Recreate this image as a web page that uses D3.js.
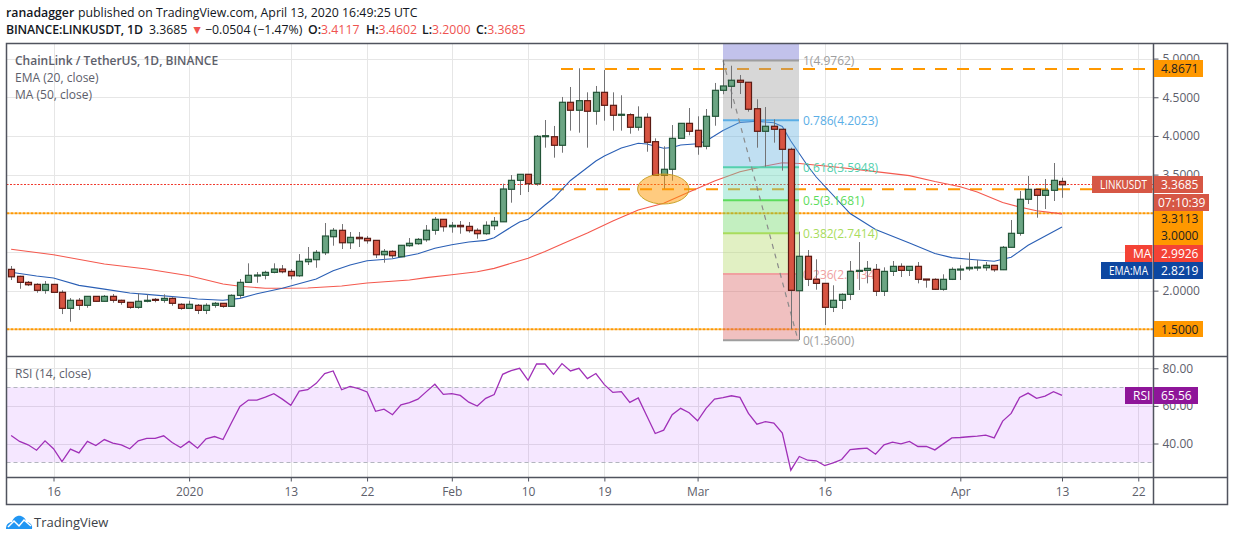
<!DOCTYPE html>
<html>
<head>
<meta charset="utf-8">
<script src="https://d3js.org/d3.v7.min.js"></script>
<style>
html, body { margin: 0; padding: 0; background: #fff; }
svg { display: block; }
text { font-family: "Open Sans", "Noto Sans", sans-serif; }
</style>
</head>
<body>
<div id="chart"></div>
<script>
// daily candles, first one is 11 Dec 2019
var opens = [2.275,2.185,2.107,2.081,2.004,2.081,1.978,1.771,1.875,1.810,1.926,1.862,1.926,1.875,1.849,1.784,1.862,1.887,1.875,1.900,1.823,1.771,1.810,1.745,1.810,1.836,1.797,1.939,2.107,2.192,2.198,2.236,2.279,2.249,2.192,2.374,2.400,2.490,2.697,2.780,2.619,2.689,2.676,2.650,2.464,2.508,2.438,2.581,2.607,2.658,2.780,2.922,2.826,2.844,2.831,2.780,2.736,2.839,2.890,3.310,3.426,3.504,3.382,3.990,3.990,3.879,4.435,4.332,4.456,4.319,4.564,4.396,4.267,4.275,4.112,4.241,3.926,3.491,3.569,3.969,4.163,4.073,3.866,4.254,4.590,4.642,4.720,4.694,4.352,4.060,4.125,4.086,3.827,1.999,2.444,2.146,2.094,1.784,1.875,1.952,2.249,2.262,2.275,1.991,2.249,2.314,2.262,2.314,2.150,2.146,2.017,2.146,2.270,2.283,2.296,2.296,2.327,2.270,2.560,2.741,3.181,3.310,3.232,3.297,3.4117];
var highs = [2.318,2.192,2.124,2.094,2.124,2.085,2.004,1.904,1.904,1.926,1.930,1.943,1.956,1.882,1.853,1.965,1.952,1.904,1.952,1.913,1.836,1.869,1.827,1.836,1.853,1.840,1.952,2.150,2.353,2.240,2.257,2.353,2.331,2.279,2.473,2.564,2.525,2.874,2.810,2.861,2.758,2.758,2.706,2.654,2.538,2.521,2.590,2.680,2.680,2.848,2.952,2.926,2.887,2.900,2.887,2.806,2.896,2.952,3.382,3.495,3.506,3.506,4.012,4.206,4.129,4.504,4.633,4.875,4.564,4.646,4.853,4.564,4.526,4.293,4.383,4.293,3.969,3.866,4.141,4.163,4.361,4.254,4.348,4.685,4.982,4.908,4.788,4.698,4.474,4.374,4.215,4.090,3.848,2.762,2.525,2.405,2.098,2.069,1.965,2.383,2.628,2.383,2.344,2.301,2.383,2.353,2.318,2.370,2.150,2.159,2.211,2.301,2.327,2.495,2.396,2.370,2.331,2.577,2.913,3.288,3.482,3.314,3.443,3.650,3.4602];
var lows = [2.137,2.024,2.059,1.973,1.960,1.973,1.697,1.598,1.749,1.779,1.859,1.859,1.844,1.818,1.766,1.766,1.849,1.849,1.844,1.805,1.753,1.770,1.697,1.697,1.779,1.779,1.792,1.900,2.102,2.102,2.146,2.224,2.224,2.146,2.179,2.331,2.296,2.460,2.581,2.538,2.538,2.564,2.607,2.422,2.361,2.418,2.434,2.568,2.594,2.632,2.723,2.762,2.749,2.736,2.749,2.671,2.723,2.784,2.890,3.137,3.236,3.275,3.357,3.848,3.719,3.783,4.068,4.042,3.848,4.145,4.197,4.068,4.068,4.029,4.068,3.796,3.491,3.318,3.421,3.969,4.008,3.757,3.827,4.132,4.539,4.357,4.542,4.314,3.848,3.602,3.913,3.551,1.503,1.361,2.059,2.012,1.555,1.723,1.762,1.878,2.008,2.094,1.930,1.930,2.189,2.176,2.189,2.094,2.038,2.008,1.999,2.137,2.137,2.257,2.257,2.257,2.244,2.266,2.557,2.710,3.120,2.943,3.055,3.159,3.2];
var closes = [2.179,2.107,2.076,2.004,2.081,1.978,1.771,1.875,1.810,1.926,1.862,1.926,1.875,1.849,1.784,1.862,1.875,1.875,1.900,1.836,1.771,1.823,1.745,1.810,1.836,1.797,1.939,2.107,2.198,2.202,2.236,2.279,2.244,2.192,2.379,2.405,2.495,2.706,2.780,2.619,2.689,2.671,2.645,2.464,2.508,2.451,2.586,2.612,2.663,2.780,2.922,2.826,2.844,2.826,2.775,2.736,2.844,2.896,3.314,3.426,3.504,3.382,3.995,4.003,3.879,4.435,4.332,4.456,4.319,4.564,4.396,4.267,4.280,4.112,4.241,3.918,3.491,3.569,3.969,4.163,4.060,3.861,4.254,4.590,4.646,4.720,4.694,4.345,4.060,4.125,4.086,3.827,2.004,2.444,2.146,2.094,1.784,1.875,1.952,2.249,2.262,2.288,1.991,2.249,2.314,2.262,2.314,2.146,2.141,2.017,2.146,2.275,2.279,2.301,2.305,2.327,2.270,2.560,2.741,3.181,3.310,3.232,3.297,3.426,3.3685];

// moving averages, read at these candle numbers
var emaDays = [0,3,5,8,11,14,16,21,22,25,27,29,32,36,38,40,42,45,48,50,52,54,56,57,59,60,61,63,64,66,67,69,70,72,74,75,77,78,79,81,82,84,86,88,90,91,92,94,95,99,102,106,109,111,113,116,118,120,124];
var emaValues = [2.238,2.189,2.163,2.068,2.020,1.969,1.952,1.904,1.891,1.876,1.900,1.960,2.030,2.150,2.257,2.331,2.387,2.412,2.477,2.547,2.594,2.628,2.650,2.684,2.822,2.887,2.922,3.107,3.194,3.424,3.508,3.676,3.741,3.844,3.905,3.896,3.840,3.850,3.883,3.900,3.935,4.070,4.176,4.189,4.171,4.122,3.935,3.611,3.469,2.997,2.790,2.616,2.480,2.427,2.405,2.379,2.431,2.586,2.8219];
var maDays = [0,5,11,16,21,25,27,30,32,35,39,42,47,49,52,55,57,59,61,63,65,68,71,74,77,80,83,86,89,91,93,97,101,106,109,112,114,117,119,121,124];
var maValues = [2.535,2.464,2.344,2.279,2.193,2.085,2.056,2.030,2.030,2.034,2.060,2.098,2.137,2.168,2.206,2.244,2.288,2.353,2.418,2.506,2.603,2.745,2.900,3.042,3.129,3.275,3.417,3.538,3.611,3.654,3.644,3.602,3.551,3.487,3.411,3.344,3.275,3.139,3.081,3.033,2.9926];

var rsiValues = [44.3,41.1,39.3,36.4,41.4,37.2,30.4,37.0,35.0,41.1,38.9,42.1,40.2,39.3,37.2,41.4,42.7,42.7,44.1,40.5,37.9,41.1,37.5,42.5,43.7,42.1,51.0,59.7,63.1,63.1,64.7,66.5,63.6,60.3,67.9,68.6,72.0,77.2,78.6,68.6,70.4,69.2,67.4,57.1,58.3,55.3,60.6,61.7,63.6,67.6,71.5,66.1,66.5,65.6,62.0,59.9,64.0,66.0,76.8,78.8,80.0,73.6,82.3,82.3,76.8,82.5,78.6,80.0,74.5,77.2,71.3,67.2,67.6,61.9,64.2,54.8,45.3,47.1,55.3,58.7,56.4,52.1,58.7,63.6,64.4,65.4,64.5,56.0,50.3,51.6,50.8,45.5,25.8,33.1,31.1,30.8,28.3,29.7,31.5,36.8,37.2,37.5,34.3,39.3,40.7,39.8,41.1,38.4,38.4,36.6,39.8,43.0,43.2,43.6,43.9,44.4,43.0,51.9,56.0,64.5,66.8,64.0,65.2,67.6,65.56];

var fibRatios = [1, 0.786, 0.618, 0.5, 0.382, 0.236, 0];
var fibPrices = [4.9762, 4.2023, 3.5948, 3.1681, 2.7414, 2.2134, 1.36];
var fibColors = ["#9e9e9e", "#5aaee6", "#55d0ae", "#5cdc5c", "#a8dc5c", "#f0a0a0", "#9e9e9e"];
var fibFills = ["rgb(155,155,155)", "rgb(98,175,222)", "rgb(98,215,185)", "rgb(105,215,97)", "rgb(180,217,105)", "rgb(217,97,97)"];

var priceTicks = [1.5, 2, 2.5, 3, 3.5, 4, 4.5, 5];
var coveredTicks = [1.5, 2.5, 3];
var rsiTicks = [40, 60, 80];
var timeDates = ["2019-12-16","2020-01-01","2020-01-13","2020-01-22","2020-02-01","2020-02-10","2020-02-19","2020-03-01","2020-03-16","2020-04-01","2020-04-13","2020-04-22"];
var timeLabels = ["16","2020","13","22","Feb","10","19","Mar","16","Apr","13","22"];
var dashedLevels = [4.8671, 3.3113];
var dottedLevels = [3.0, 1.5];

var width = 1234, height = 541;
var frame = { left: 6.5, right: 1227.5, top: 43.5, axis: 1153.5, paneEnd: 356.5, rsiEnd: 477.5, bottom: 504.5 };

var svg = d3.select("#chart").append("svg")
    .attr("width", width)
    .attr("height", height);

var firstDay = new Date(Date.UTC(2019, 11, 11));
var dateOf = function (i) { return d3.utcDay.offset(firstDay, i); };
var parseDay = d3.utcParse("%Y-%m-%d");

var x = d3.scaleUtc()
    .domain([parseDay("2019-12-16"), parseDay("2020-04-13")])
    .range([53.5, 1062]);
var y = d3.scaleLinear().domain([5, 1.5]).range([58.6, 329.3]);
var yRsi = d3.scaleLinear().domain([80, 30]).range([368.3, 462.3]);
var px = function (v) { return Math.round(v) + 0.5; };

// grid
var grid = svg.append("g").attr("stroke", "#e6e6e6").attr("fill", "none");
timeDates.forEach(function (d) {
    var gx = px(x(parseDay(d)));
    grid.append("line").attr("x1", gx).attr("x2", gx).attr("y1", frame.top).attr("y2", frame.rsiEnd);
});
priceTicks.forEach(function (p) {
    grid.append("line").attr("x1", frame.left).attr("x2", frame.axis).attr("y1", px(y(p))).attr("y2", px(y(p)));
});
rsiTicks.forEach(function (p) {
    grid.append("line").attr("x1", frame.left).attr("x2", frame.axis).attr("y1", px(yRsi(p))).attr("y2", px(yRsi(p)));
});

// horizontal levels
var lastY = Math.floor(y(closes[closes.length - 1])) + 0.5;
svg.append("line")
    .attr("x1", frame.left).attr("x2", frame.axis)
    .attr("y1", lastY).attr("y2", lastY)
    .attr("stroke", "#f0382c").attr("stroke-dasharray", "2,1.5");
var dashStart = [561, 552];
dashedLevels.forEach(function (p, i) {
    svg.append("line")
        .attr("x1", dashStart[i]).attr("x2", frame.axis)
        .attr("y1", y(p)).attr("y2", y(p))
        .attr("stroke", "#ff9800").attr("stroke-width", 2).attr("stroke-dasharray", "12,10");
});
dottedLevels.forEach(function (p) {
    svg.append("line")
        .attr("x1", frame.left).attr("x2", frame.axis)
        .attr("y1", y(p)).attr("y2", y(p))
        .attr("stroke", "#ff9800").attr("stroke-width", 2).attr("stroke-dasharray", "3,1");
});

// moving averages
var priceLine = d3.line()
    .x(function (d) { return x(dateOf(d[0])); })
    .y(function (d) { return y(d[1]); });
svg.append("path")
    .attr("d", priceLine(d3.zip(maDays, maValues)))
    .attr("fill", "none").attr("stroke", "#f4594e").attr("stroke-width", 1.1);
svg.append("path")
    .attr("d", priceLine(d3.zip(emaDays, emaValues)))
    .attr("fill", "none").attr("stroke", "#2a5fb5").attr("stroke-width", 1.1);

// fibonacci retracement
var fibLeft = 723, fibRight = 799;
svg.append("rect")
    .attr("x", fibLeft).attr("width", fibRight - fibLeft)
    .attr("y", frame.top).attr("height", y(fibPrices[0]) - frame.top)
    .attr("fill", "rgb(103,103,205)").attr("fill-opacity", 0.4);
fibFills.forEach(function (c, i) {
    svg.append("rect")
        .attr("x", fibLeft).attr("width", fibRight - fibLeft)
        .attr("y", y(fibPrices[i])).attr("height", y(fibPrices[i + 1]) - y(fibPrices[i]))
        .attr("fill", c).attr("fill-opacity", 0.4);
});
fibPrices.forEach(function (p, i) {
    svg.append("line")
        .attr("x1", fibLeft).attr("x2", fibRight)
        .attr("y1", y(p)).attr("y2", y(p))
        .attr("stroke", fibColors[i]).attr("stroke-width", 2);
    svg.append("text")
        .attr("x", fibRight + 4).attr("y", y(p) + 4.5)
        .attr("font-size", 12).attr("font-weight", 500).attr("fill", fibColors[i])
        .text(fibRatios[i] + "(" + p.toFixed(4) + ")");
});
svg.append("line")
    .attr("x1", fibLeft).attr("y1", y(fibPrices[0]))
    .attr("x2", fibRight - 1).attr("y2", y(fibPrices[6]))
    .attr("stroke", "#8a8a8a").attr("stroke-width", 1.2).attr("stroke-dasharray", "5,5");

// candles
var candle = svg.append("g").selectAll("g")
    .data(d3.range(opens.length))
    .enter().append("g");
candle.append("line")
    .attr("x1", function (i) { return px(x(dateOf(i))); })
    .attr("x2", function (i) { return px(x(dateOf(i))); })
    .attr("y1", function (i) { return y(highs[i]); })
    .attr("y2", function (i) { return y(lows[i]); })
    .attr("stroke", "#737375").attr("stroke-width", 1);
candle.append("rect")
    .attr("x", function (i) { return px(x(dateOf(i))) - 3; })
    .attr("width", 6)
    .attr("y", function (i) { return y(Math.max(opens[i], closes[i])); })
    .attr("height", function (i) { return Math.max(1, Math.abs(y(opens[i]) - y(closes[i]))); })
    .attr("fill", function (i) { return closes[i] >= opens[i] ? "#6ba583" : "#d75442"; })
    .attr("stroke", function (i) { return closes[i] >= opens[i] ? "#225437" : "#5b1a13"; })
    .attr("stroke-width", 1.2);

// highlight ellipse
svg.append("ellipse")
    .attr("cx", 663.3).attr("cy", 189).attr("rx", 25.7).attr("ry", 15)
    .attr("fill", "#ff9800").attr("fill-opacity", 0.5)
    .attr("stroke", "#c9a227").attr("stroke-width", 1);

// rsi pane
svg.append("rect")
    .attr("x", frame.left).attr("width", frame.axis - frame.left)
    .attr("y", yRsi(70)).attr("height", yRsi(30) - yRsi(70))
    .attr("fill", "#9915ff").attr("fill-opacity", 0.1);
[70, 30].forEach(function (p) {
    svg.append("line")
        .attr("x1", frame.left).attr("x2", frame.axis)
        .attr("y1", px(yRsi(p))).attr("y2", px(yRsi(p)))
        .attr("stroke", "#b2b5be").attr("stroke-dasharray", "4,3");
});
svg.append("path")
    .attr("d", d3.line()
        .x(function (d, i) { return x(dateOf(i)); })
        .y(function (d) { return yRsi(d); })(rsiValues))
    .attr("fill", "none").attr("stroke", "#a030b8").attr("stroke-width", 1.3);

// axes
var axisColor = "#50535e", labelColor = "#5d606b";
var axisRight = svg.append("g")
    .attr("transform", "translate(" + frame.axis + ",0)")
    .call(d3.axisRight(y).tickValues(priceTicks).tickSize(5).tickPadding(4)
        .tickFormat(function (d) { return coveredTicks.indexOf(d) >= 0 ? "" : d.toFixed(4); }));
var axisRsi = svg.append("g")
    .attr("transform", "translate(" + frame.axis + ",0)")
    .call(d3.axisRight(yRsi).tickValues(rsiTicks).tickSize(5).tickPadding(4)
        .tickFormat(function (d) { return d.toFixed(2); }));
var axisTime = svg.append("g")
    .attr("transform", "translate(0," + frame.rsiEnd + ")")
    .call(d3.axisBottom(x).tickValues(timeDates.map(parseDay)).tickSize(4).tickPadding(6)
        .tickFormat(function (d, i) { return timeLabels[i]; }));
[axisRight, axisRsi, axisTime].forEach(function (a) {
    a.select(".domain").remove();
    a.selectAll("line").attr("stroke", axisColor);
    a.selectAll("text").attr("font-size", 12).attr("fill", labelColor)
        .attr("font-family", '"Open Sans", "Noto Sans", sans-serif');
});

// frame
var frameLines = svg.append("g").attr("stroke", axisColor).attr("stroke-width", 1.5).attr("fill", "none");
frameLines.append("rect")
    .attr("x", frame.left).attr("y", frame.top)
    .attr("width", frame.right - frame.left).attr("height", frame.bottom - frame.top);
frameLines.append("line").attr("x1", frame.axis).attr("x2", frame.axis).attr("y1", frame.top).attr("y2", frame.bottom);
frameLines.append("line").attr("x1", frame.left).attr("x2", frame.right).attr("y1", frame.paneEnd).attr("y2", frame.paneEnd);
frameLines.append("line").attr("x1", frame.left).attr("x2", frame.right).attr("y1", frame.rsiEnd).attr("y2", frame.rsiEnd);

// price tags on the axis
function tag(x0, x1, y0, y1, fill) {
    svg.append("rect")
        .attr("x", x0).attr("y", y0).attr("width", x1 - x0).attr("height", y1 - y0)
        .attr("fill", fill);
}
function tagText(tx, ty, s, color, bold, fit) {
    var t = svg.append("text")
        .attr("x", tx).attr("y", ty)
        .attr("font-size", 12).attr("fill", color)
        .attr("font-weight", bold ? 600 : 400)
        .text(s);
    if (fit) t.attr("textLength", fit).attr("lengthAdjust", "spacingAndGlyphs");
}
tag(1154, 1203, 60, 77, "#ff9800");
tagText(1161, 73, "4.8671", "#222");
tag(1154, 1203, 211, 245, "#ff9800");
tagText(1161, 223, "3.3113", "#222");
tagText(1161, 240, "3.0000", "#222");
tag(1154, 1203, 321, 337, "#ff9800");
tagText(1161, 333.5, "1.5000", "#222");
tag(1092, 1152.5, 176, 193, "#d65745");
tagText(1100, 189, "LINKUSDT", "#fff", false, 47);
tag(1154, 1203, 176, 193, "#d65745");
tagText(1161, 189, "3.3685", "#fff");
tag(1154, 1209, 194, 211, "#d65745");
tagText(1158, 207, "07:10:39", "#fff");
tag(1125, 1152.5, 245, 262, "#f44336");
tagText(1133, 258, "MA", "#fff");
tag(1154, 1203, 245, 262, "#f44336");
tagText(1161, 258, "2.9926", "#fff");
tag(1101, 1152.5, 262, 279, "#0d47a1");
tagText(1109, 275, "EMA:MA", "#fff", false, 39);
tag(1154, 1203, 262, 279, "#0d47a1");
tagText(1161, 275, "2.8219", "#fff");
tag(1125, 1152.5, 387, 404, "#8e1599");
tagText(1133, 400, "RSI", "#fff");
tag(1154, 1198, 387, 404, "#8e1599");
tagText(1161, 400, "65.56", "#fff");

// pane titles
tagText(15, 65, "ChainLink / TetherUS, 1D, BINANCE", "#5d606b", true);
tagText(15, 82, "EMA (20, close)", "#5d606b");
tagText(15, 99, "MA (50, close)", "#5d606b");
tagText(15, 378, "RSI (14, close)", "#5d606b");

// header
var red = "#ef5350";
var head1 = svg.append("text").attr("x", 6).attr("y", 17).attr("font-size", 12.3).attr("fill", "#131722");
head1.append("tspan").attr("font-weight", 600).text("ranadagger");
head1.append("tspan").attr("x", 78).text("published on TradingView.com, April 13, 2020 16:49:25 UTC");
var head2 = svg.append("text").attr("x", 6).attr("y", 34).attr("font-size", 12.3).attr("fill", "#131722");
head2.append("tspan").attr("font-weight", 600).attr("textLength", 137).text("BINANCE:LINKUSDT, 1D");
head2.append("tspan").attr("x", 149).text("3.3685");
head2.append("tspan").attr("x", 191).attr("fill", red).text("\u25BC");
head2.append("tspan").attr("x", 205).text("\u22120.0504 (\u22121.47%)");
var ohlcX = [308, 366, 422, 476];
[["O:", "3.4117"], ["H:", "3.4602"], ["L:", "3.2000"], ["C:", "3.3685"]].forEach(function (d, i) {
    head2.append("tspan").attr("x", ohlcX[i]).attr("font-weight", 600).text(d[0]);
    head2.append("tspan").attr("fill", red).text(d[1]);
});

// logo
var logo = svg.append("g").attr("transform", "translate(6,515)");
logo.append("path")
    .attr("d", "M0,14 C0,9 3,7 6,7 C7,3 11,0 15,1 C18,2 20,4 20,7 C24,7 27,10 26,14 Z")
    .attr("fill", "#2196f3");
logo.append("path")
    .attr("d", "M2,12 L8,6 L13,11 L18,5 L25,11")
    .attr("fill", "none").attr("stroke", "#fff").attr("stroke-width", 1.5);
svg.append("text").attr("x", 34).attr("y", 527).attr("font-size", 13).attr("fill", "#3c3f47").text("TradingView");
</script>
</body>
</html>
